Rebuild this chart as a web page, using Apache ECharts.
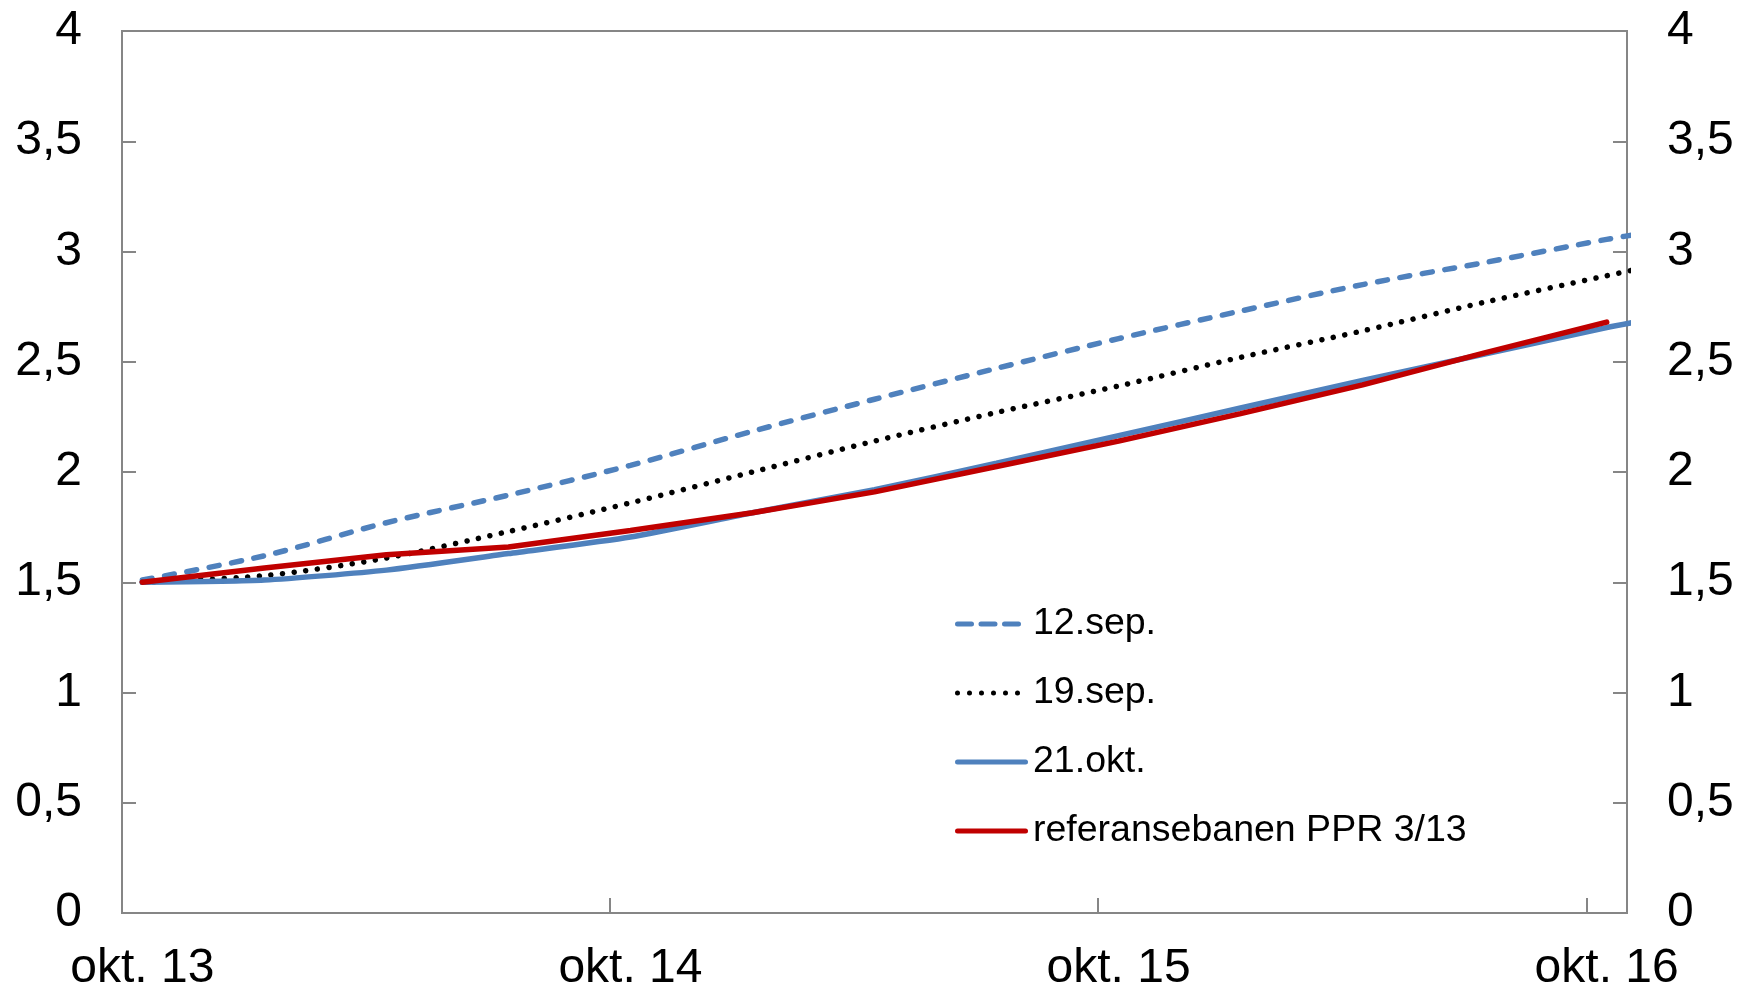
<!DOCTYPE html>
<html>
<head>
<meta charset="utf-8">
<script src="https://cdn.jsdelivr.net/npm/echarts@6/dist/echarts.min.js"></script>
<style>html,body{margin:0;padding:0;background:#fff}#chart{width:1737px;height:990px}</style>
</head>
<body>
<div id="chart"></div>
<script>
// Months since okt. 13 for each observation (quarterly points)
const pointLabels = ['okt. 13','jan. 14','apr. 14','jul. 14','okt. 14','jan. 15','apr. 15','jul. 15','okt. 15','jan. 16','apr. 16','jul. 16','okt. 16','nov. 16'];
const pointMonths = [0, 3, 6, 9, 12, 15, 18, 21, 24, 27, 30, 33, 36, 37];

const xTickLabels = ['okt. 13', 'okt. 14', 'okt. 15', 'okt. 16'];
const xTickMonths = [0, 12, 24, 36];

const yTicks = [0, 0.5, 1, 1.5, 2, 2.5, 3, 3.5, 4];

const seriesNames = ['12.sep.', '19.sep.', '21.okt.', 'referansebanen PPR 3/13'];
const sep12 = [1.51, 1.62, 1.77, 1.895, 2.03, 2.185, 2.33, 2.47, 2.605, 2.73, 2.85, 2.95, 3.055, 3.085];
const sep19 = [1.50, 1.53, 1.61, 1.73, 1.86, 2.00, 2.14, 2.27, 2.39, 2.52, 2.64, 2.77, 2.89, 2.93];
const okt21 = [1.50, 1.51, 1.555, 1.63, 1.705, 1.815, 1.92, 2.04, 2.165, 2.29, 2.415, 2.535, 2.655, 2.69];
const ppr313 = [1.50, 1.565, 1.625, 1.66, 1.735, 1.815, 1.91, 2.025, 2.14, 2.265, 2.395, 2.54, 2.68];

const pairs = vals => vals.map((v, i) => [pointMonths[i], v]);
const fmtNum = v => String(v).replace('.', ',');

const FONT = 'Liberation Sans, Arial, sans-serif';
const AXIS_COLOR = '#868686';
const BLUE = '#4F81BD';
const RED = '#C00000';
const LW = 5.5;

// legend glyphs (shapes only); all share a 73 x 5 box
const ICON_DASH = 'path://M2.5,0h14a2.5,2.5 0 0,1 0,5h-14a2.5,2.5 0 0,1 0,-5z M26,0h14a2.5,2.5 0 0,1 0,5h-14a2.5,2.5 0 0,1 0,-5z M49.5,0h14a2.5,2.5 0 0,1 0,5h-14a2.5,2.5 0 0,1 0,-5z M73,5h0z';
let dots = '';
for (let k = 0; k < 6; k++) { const cx = 2.5 + k * 12; dots += `M${cx - 2.5},2.5a2.5,2.5 0 1,0 5,0a2.5,2.5 0 1,0 -5,0z `; }
const ICON_DOT = 'path://' + dots.trim() + ' M73,5h0z';
const ICON_SOLID = 'path://M2.5,0h68a2.5,2.5 0 0,1 0,5h-68a2.5,2.5 0 0,1 0,-5z';

const chart = echarts.init(document.getElementById('chart'), null, {renderer: 'canvas'});

const yAxisCommon = {
  type: 'value', min: 0, max: 4, interval: 0.5,
  axisLine: {show: true, onZero: false, lineStyle: {color: AXIS_COLOR, width: 2}},
  axisTick: {show: true, inside: true, length: 14, lineStyle: {color: AXIS_COLOR, width: 2}},
  splitLine: {show: false},
  axisLabel: {color: '#000', fontFamily: FONT, fontSize: 48, margin: 40, formatter: v => fmtNum(v)}
};

chart.setOption({
  animation: false,
  backgroundColor: '#fff',
  grid: {left: 122, right: 110, top: 31, bottom: 77, show: true, borderColor: AXIS_COLOR, borderWidth: 2,
    containLabel: false, outerBoundsMode: 'none'},
  xAxis: {
    type: 'value', min: -0.5, max: 36.5,
    axisLine: {show: true, onZero: false, lineStyle: {color: AXIS_COLOR, width: 2}},
    axisTick: {show: true, inside: true, length: 15, lineStyle: {color: AXIS_COLOR, width: 2},
      customValues: xTickMonths.map(m => m - 0.5)},
    splitLine: {show: false},
    axisLabel: {color: '#000', fontFamily: FONT, fontSize: 48, margin: 32,
      customValues: xTickMonths,
      formatter: v => { const i = xTickMonths.indexOf(Math.round(v)); return i >= 0 ? xTickLabels[i] : ''; }}
  },
  yAxis: [
    Object.assign({}, yAxisCommon, {position: 'left'}),
    Object.assign({}, yAxisCommon, {position: 'right'})
  ],
  legend: {
    orient: 'vertical', left: 950, top: 598,
    itemWidth: 73, itemHeight: 5, itemGap: 27,
    textStyle: {color: '#000', fontFamily: FONT, fontSize: 37.5, lineHeight: 42},
    data: [
      {name: seriesNames[0], icon: ICON_DASH, itemStyle: {color: BLUE}},
      {name: seriesNames[1], icon: ICON_DOT, itemStyle: {color: '#000'}},
      {name: seriesNames[2], icon: ICON_SOLID, itemStyle: {color: BLUE}},
      {name: seriesNames[3], icon: ICON_SOLID, itemStyle: {color: RED}}
    ]
  },
  series: [
    {name: seriesNames[0], type: 'line', data: pairs(sep12), showSymbol: false, symbol: 'none', smooth: 0.3,
      lineStyle: {color: BLUE, width: LW, type: [10, 12.7], cap: 'round'}, itemStyle: {color: BLUE}},
    {name: seriesNames[1], type: 'line', data: pairs(sep19), showSymbol: false, symbol: 'none', smooth: 0.3,
      lineStyle: {color: '#000', width: LW, type: [0.01, 11.7], cap: 'round'}, itemStyle: {color: '#000'}},
    {name: seriesNames[2], type: 'line', data: pairs(okt21), showSymbol: false, symbol: 'none', smooth: 0.2,
      lineStyle: {color: BLUE, width: LW, cap: 'round'}, itemStyle: {color: BLUE}},
    {name: seriesNames[3], type: 'line', data: pairs(ppr313), showSymbol: false, symbol: 'none',
      lineStyle: {color: RED, width: LW, cap: 'round'}, itemStyle: {color: RED}}
  ]
});
</script>
</body>
</html>
